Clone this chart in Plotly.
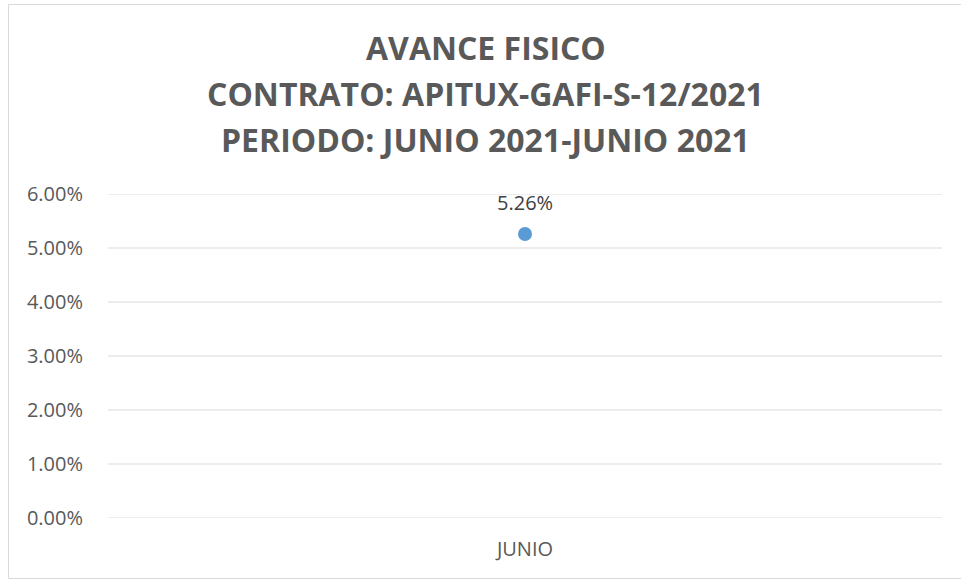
import plotly.graph_objects as go

# ---- data ----
categories = ["JUNIO"]
avance = [0.0526]
y_ticks = [0.0, 0.01, 0.02, 0.03, 0.04, 0.05, 0.06]
title_lines = [
    "AVANCE FISICO",
    "CONTRATO: APITUX-GAFI-S-12/2021",
    "PERIODO: JUNIO 2021-JUNIO 2021",
]

# ---- layout geometry (pixels) ----
W, H = 961, 580
L, R, T, B = 108, 19, 194, 62
PW, PH = W - L - R, H - T - B


def pxx(x):
    return (x - L) / PW


def pxy(y):
    return (H - B - y) / PH


GRID = "#d9d9d9"
TXT = "#595959"
FONT = "Open Sans"

fig = go.Figure()
fig.add_trace(go.Scatter(
    x=categories, y=avance, mode="markers",
    marker=dict(color="#5b9bd5", size=14, line=dict(width=0)),
    hoverinfo="skip", showlegend=False, cliponaxis=False,
))

annotations = []
for line, yc in zip(title_lines, [47.3, 93.5, 139.7]):
    annotations.append(dict(
        text="<b>%s</b>" % line, xref="paper", yref="paper",
        x=pxx(W / 2 + 5), y=pxy(yc), xanchor="center", yanchor="middle",
        showarrow=False, font=dict(family=FONT, size=32, color=TXT),
    ))
for c, v in zip(categories, avance):
    annotations.append(dict(
        text="%.2f%%" % (v * 100), x=c, y=v, xref="x", yref="y",
        yshift=31, showarrow=False, xanchor="center", yanchor="middle",
        font=dict(family=FONT, size=20, color="#404040"),
    ))

shapes = [dict(
    type="rect", xref="paper", yref="paper",
    x0=pxx(8.5), x1=pxx(961.5), y0=pxy(578.5), y1=pxy(4.5),
    line=dict(color=GRID, width=1), fillcolor="rgba(0,0,0,0)", layer="below",
)]
for t in y_ticks:
    shapes.append(dict(
        type="line", xref="paper", yref="y", x0=0, x1=1, y0=t, y1=t,
        line=dict(color=GRID, width=1), layer="below",
    ))

fig.update_layout(
    width=W, height=H,
    margin=dict(l=L, r=R, t=T, b=B, pad=0),
    paper_bgcolor="white", plot_bgcolor="white",
    font=dict(family=FONT, color=TXT),
    annotations=annotations,
    shapes=shapes,
    xaxis=dict(
        type="category", showgrid=False, zeroline=False, showline=False,
        ticks="outside", ticklen=0, tickcolor="white",
        ticklabelstandoff=13,
        tickfont=dict(family=FONT, size=20, color=TXT),
        fixedrange=True,
    ),
    yaxis=dict(
        range=[y_ticks[0], y_ticks[-1]], tickvals=y_ticks, tickformat=".2%",
        showgrid=False, zeroline=False, showline=False,
        ticks="outside", ticklen=0, tickcolor="white",
        ticklabelstandoff=20,
        tickfont=dict(family=FONT, size=20, color=TXT),
        fixedrange=True,
    ),
)

fig.write_html("out.html", config={"displayModeBar": False})
